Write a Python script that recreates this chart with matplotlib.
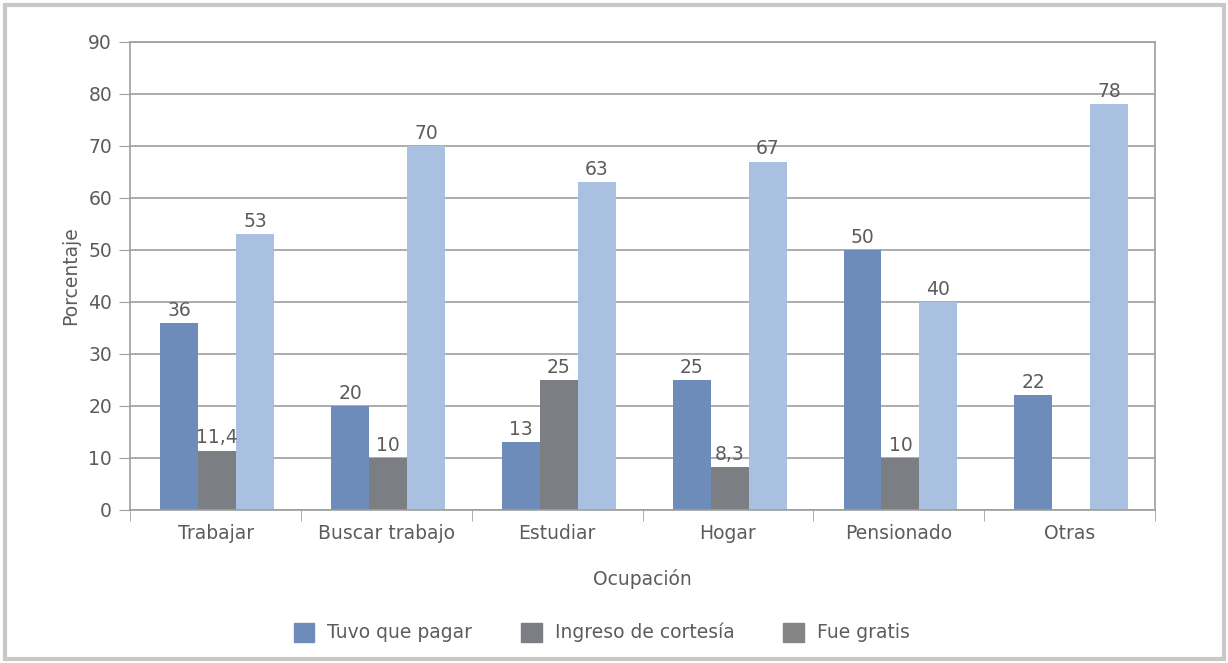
import matplotlib.pyplot as plt
import numpy as np
from matplotlib.patches import Patch, Rectangle

plt.rcParams['font.family'] = ['DejaVu Sans']

# data
categories = ["Trabajar", "Buscar trabajo", "Estudiar", "Hogar", "Pensionado", "Otras"]
tuvo_que_pagar = [36, 20, 13, 25, 50, 22]
ingreso_cortesia = [11.4, 10, 25, 8.3, 10, np.nan]
fue_gratis = [53, 70, 63, 67, 40, 78]
labels_pagar = ["36", "20", "13", "25", "50", "22"]
labels_cortesia = ["11,4", "10", "25", "8,3", "10", ""]
labels_gratis = ["53", "70", "63", "67", "40", "78"]
series_names = ["Tuvo que pagar", "Ingreso de cortesía", "Fue gratis"]

c_pagar = "#6d8cba"
c_cortesia = "#7b7e82"
c_gratis = "#a9c0e0"
txt = "#5c5c5c"
grid_c = "#9e9e9e"
fs = 13.5

fig = plt.figure(figsize=(12.28, 6.63), dpi=100)
ax = fig.add_axes([0.106, 0.231, 0.8345, 0.7057])

x = np.arange(len(categories))
w = 0.222
b1 = ax.bar(x - w + 0.01, tuvo_que_pagar, w, color=c_pagar)
b2 = ax.bar(x + 0.01, ingreso_cortesia, w, color=c_cortesia)
b3 = ax.bar(x + w + 0.01, fue_gratis, w, color=c_gratis)

for bars, labs in [(b1, labels_pagar), (b2, labels_cortesia), (b3, labels_gratis)]:
    for rect, lab in zip(bars, labs):
        if lab == "":
            continue
        ax.text(rect.get_x() + rect.get_width() / 2, rect.get_height() + 0.6, lab,
                ha="center", va="bottom", fontsize=fs, color=txt)

ax.set_xlim(-0.5, len(categories) - 0.5)
ax.set_ylim(0, 90)
ax.set_yticks(range(0, 91, 10))
ax.yaxis.grid(True, color=grid_c, linewidth=1.2)
ax.set_axisbelow(True)

# category labels at centers, ticks at boundaries
ax.set_xticks(x)
ax.set_xticklabels(categories)
ax.set_xticks(np.arange(-0.5, len(categories), 1), minor=True)
ax.tick_params(axis="x", which="major", length=0, pad=10, labelsize=fs, labelcolor=txt)
ax.tick_params(axis="x", which="minor", length=8, color=grid_c, direction="out")
ax.tick_params(axis="y", length=8, color=grid_c, labelsize=fs, labelcolor=txt, pad=5)

for s in ax.spines.values():
    s.set_color(grid_c)
    s.set_linewidth(1.2)

ax.set_ylabel("Porcentaje", fontsize=fs, color=txt, labelpad=6)
ax.set_xlabel("Ocupación", fontsize=fs, color=txt, labelpad=19)

handles = [Patch(color=c_pagar), Patch(color=c_cortesia), Patch(color="#858585")]
fig.legend(handles, series_names, loc="center", bbox_to_anchor=(0.49, 0.046), ncol=3,
           frameon=False, fontsize=fs, labelcolor=txt, handlelength=1.1,
           handleheight=1.2, columnspacing=2.6, handletextpad=0.7)

# outer frame
fig.patches.append(Rectangle((0.004, 0.006), 0.993, 0.986, transform=fig.transFigure,
                             fill=False, edgecolor="#c8c8c8", linewidth=3))

fig.savefig("out.png", dpi=100)
